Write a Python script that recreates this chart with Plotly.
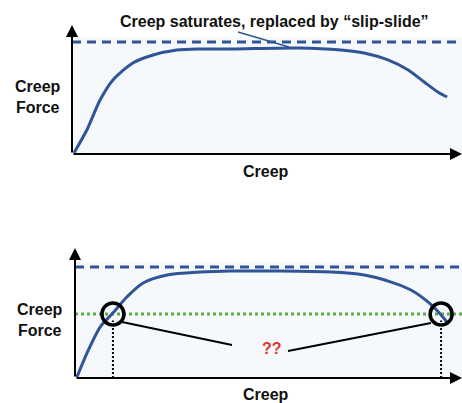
import plotly.graph_objects as go

W, H = 462, 403

# ---------- data (axis units 0..100) ----------
top_x = [0.5, 3.8, 7.2, 10.5, 15.6, 20.8, 26.9, 32.8, 40.8, 57.9, 69.0, 74.9, 81.0, 86.2, 90.3, 93.8, 96.2]
top_y = [0.8, 18.6, 41.9, 57.4, 70.5, 76.7, 80.6, 81.4, 81.4, 82.2, 80.6, 78.3, 72.9, 65.1, 55.8, 48.1, 44.2]
top_limit = 86.8

bot_x = [0.5, 3.1, 6.5, 9.8, 13.4, 17.6, 23.8, 32.3, 40.3, 66.1, 74.7, 81.7, 86.8, 91.2, 94.6, 96.1]
bot_y = [0.8, 19.2, 39.2, 50.0, 62.3, 73.1, 79.2, 81.5, 82.3, 81.5, 79.2, 73.8, 67.7, 58.5, 48.5, 43.1]
bot_limit = 85.4
bot_level = 49.2
cross_x = [9.8, 94.6]
cross_y = [49.2, 49.2]

title_text = "Creep saturates, replaced by \u201cslip-slide\u201d"
ylabel = "Creep<br>Force"
xlabel = "Creep"
qtext = "??"

BLUE = "#2f5597"
GREEN = "#5aac44"
FONT = "Liberation Sans, Arial, sans-serif"


def px(x):
    return x / W


def py(y):
    return 1 - y / H


fig = go.Figure()

# top panel
fig.add_trace(go.Scatter(x=[0, 100], y=[top_limit, top_limit], mode="lines",
                         line=dict(color=BLUE, width=3, dash="9px,6px"),
                         xaxis="x", yaxis="y", hoverinfo="skip"))
fig.add_trace(go.Scatter(x=top_x, y=top_y, mode="lines",
                         line=dict(color=BLUE, width=3, shape="spline", smoothing=0.8),
                         xaxis="x", yaxis="y"))

# bottom panel
fig.add_trace(go.Scatter(x=[0, 100], y=[bot_limit, bot_limit], mode="lines",
                         line=dict(color=BLUE, width=3, dash="9px,6px"),
                         xaxis="x2", yaxis="y2", hoverinfo="skip"))
fig.add_trace(go.Scatter(x=[0, 100], y=[bot_level, bot_level], mode="lines",
                         line=dict(color=GREEN, width=3, dash="3px,3px"),
                         xaxis="x2", yaxis="y2", hoverinfo="skip"))
fig.add_trace(go.Scatter(x=bot_x, y=bot_y, mode="lines",
                         line=dict(color=BLUE, width=3, shape="spline", smoothing=0.8),
                         xaxis="x2", yaxis="y2"))
for cx, cy in zip(cross_x, cross_y):
    fig.add_trace(go.Scatter(x=[cx, cx], y=[0, cy - 5], mode="lines",
                             line=dict(color="black", width=2, dash="2px,2px"),
                             xaxis="x2", yaxis="y2", hoverinfo="skip"))
fig.add_trace(go.Scatter(x=cross_x, y=cross_y, mode="markers",
                         marker=dict(symbol="circle-open", size=22, color="black",
                                     line=dict(width=3.5, color="black")),
                         xaxis="x2", yaxis="y2"))

shapes = [
    dict(type="rect", xref="x", yref="y", x0=0, x1=100, y0=0, y1=top_limit + 4,
         fillcolor="#f6f9fc", line_width=0, layer="below"),
    dict(type="rect", xref="x2", yref="y2", x0=0, x1=100, y0=0, y1=bot_limit + 4,
         fillcolor="#f6f9fc", line_width=0, layer="below"),
    # pointer from title to dashed line
    dict(type="line", xref="paper", yref="paper", x0=px(238), y0=py(32), x1=px(289), y1=py(47),
         line=dict(color=BLUE, width=1.5)),
    # connectors to ??
    dict(type="line", xref="paper", yref="paper", x0=px(122), y0=py(322), x1=px(232), y1=py(345),
         line=dict(color="black", width=2)),
    dict(type="line", xref="paper", yref="paper", x0=px(288), y0=py(351), x1=px(431), y1=py(323),
         line=dict(color="black", width=2)),
]

ann = []
# axis arrows
for xr, yr in (("x", "y"), ("x2", "y2")):
    ann.append(dict(x=0, y=100, ax=0, ay=0, xref=xr, yref=yr, axref=xr, ayref=yr, text="",
                    showarrow=True, arrowhead=2, arrowsize=1.2, arrowwidth=2, arrowcolor="black"))
    ann.append(dict(x=100, y=0, ax=0, ay=0, xref=xr, yref=yr, axref=xr, ayref=yr, text="",
                    showarrow=True, arrowhead=2, arrowsize=1.2, arrowwidth=2, arrowcolor="black"))

bold = dict(family=FONT, size=16, color="#111111")
ann += [
    dict(x=px(274), y=py(21), xref="paper", yref="paper", text="<b>" + title_text + "</b>",
         showarrow=False, font=bold, xanchor="center", yanchor="middle"),
    dict(x=px(38), y=py(97), xref="paper", yref="paper", text="<b>" + ylabel + "</b>",
         showarrow=False, font=bold, xanchor="center", yanchor="middle", align="center"),
    dict(x=px(266), y=py(171), xref="paper", yref="paper", text="<b>" + xlabel + "</b>",
         showarrow=False, font=bold, xanchor="center", yanchor="middle"),
    dict(x=px(40), y=py(320), xref="paper", yref="paper", text="<b>" + ylabel + "</b>",
         showarrow=False, font=bold, xanchor="center", yanchor="middle", align="center"),
    dict(x=px(266), y=py(394), xref="paper", yref="paper", text="<b>" + xlabel + "</b>",
         showarrow=False, font=bold, xanchor="center", yanchor="middle"),
    dict(x=px(272), y=py(348), xref="paper", yref="paper", text="<b>" + qtext + "</b>",
         showarrow=False, font=dict(family=FONT, size=16, color="#e0352b"),
         xanchor="center", yanchor="middle"),
]

ax_common = dict(visible=False, range=[0, 100], fixedrange=True)
fig.update_layout(
    width=W, height=H,
    margin=dict(l=0, r=0, t=0, b=0),
    paper_bgcolor="white", plot_bgcolor="rgba(0,0,0,0)",
    showlegend=False,
    xaxis=dict(domain=[px(72), 1], **ax_common),
    yaxis=dict(domain=[py(154), py(25)], **ax_common),
    xaxis2=dict(domain=[px(75), 1], anchor="y2", **ax_common),
    yaxis2=dict(domain=[py(378), py(248)], anchor="x2", **ax_common),
    shapes=shapes,
    annotations=ann,
)
for tr in fig.data:
    tr.cliponaxis = False

fig.write_html("out.html", config=dict(displayModeBar=False),
               post_script="document.body.style.margin='0';document.body.style.overflow='hidden';")
